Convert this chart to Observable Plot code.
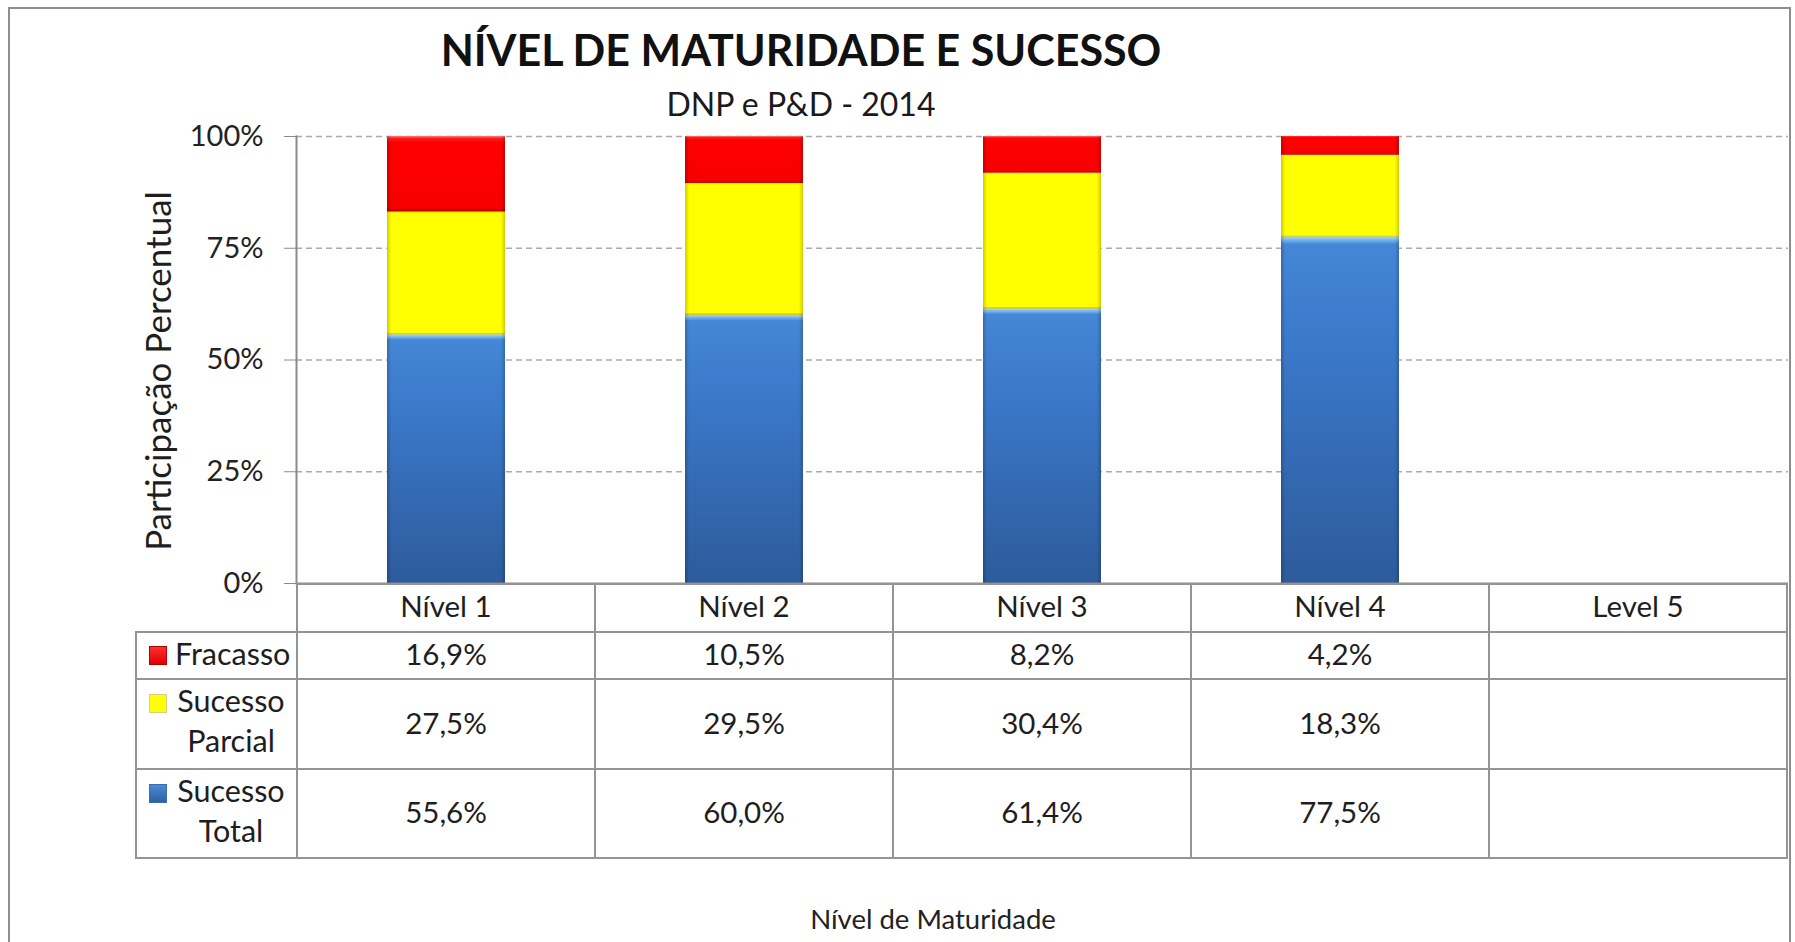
<!DOCTYPE html>
<html>
<head>
<meta charset="utf-8">
<script src="https://cdn.jsdelivr.net/npm/d3@7"></script>
<script src="https://cdn.jsdelivr.net/npm/@observablehq/plot@0.6"></script>
<style>
  body { margin: 0; background: #fff; font-family: Lato, "Noto Sans", sans-serif; color: #1e1e1e; }
  #wrap { position: relative; width: 1795px; height: 942px; overflow: hidden; background: #fff; }
  #border { position: absolute; left: 8px; top: 7px; width: 1783px; height: 980px; border: 2px solid #8e8e8e; box-sizing: border-box; }
  .t { position: absolute; white-space: nowrap; line-height: 1.2; }
  #title { left: 0; width: 1602px; text-align: center; top: 24px; font-size: 43px; font-weight: 700; color: #111; }
  #subtitle { left: 0; width: 1602px; text-align: center; top: 85px; font-size: 32px; color: #1a1a1a; }
  #xlabel { left: 933px; transform: translateX(-50%); top: 902px; font-size: 27.5px; color: #222; }
  #chart { position: absolute; left: 0; top: 120px; }
  table { position: absolute; left: 135px; top: 583px; border-collapse: collapse; table-layout: fixed; font-size: 29.5px; color: #1e1e1e; }
  td { border: 2px solid #949494; text-align: center; vertical-align: middle; padding: 0 0 4px 0; white-space: nowrap; }
  td.blank { border: none; }
  td.rhcell { padding: 0; }
  .rh { position: relative; height: 100%; }
  .sq { position: absolute; left: 12px; width: 18px; height: 19px; box-sizing: border-box; }
  .lab { position: absolute; left: 38px; width: 112px; text-align: center; line-height: 40px; font-size: 30.5px; }
</style>
</head>
<body>
<div id="wrap">
  <div id="border"></div>
  <div id="title" class="t"></div>
  <div id="subtitle" class="t"></div>
  <div id="chart"></div>
  <div id="tablehost"></div>
  <div id="xlabel" class="t"></div>
</div>
<script>
// ---- data ----
const titleText = "NÍVEL DE MATURIDADE E SUCESSO";
const subtitleText = "DNP e P&D - 2014";
const yLabel = "Participação Percentual";
const xLabel = "Nível de Maturidade";
const levels = ["Nível 1", "Nível 2", "Nível 3", "Nível 4", "Level 5"];
const series = ["Sucesso Total", "Sucesso Parcial", "Fracasso"]; // bottom -> top
const sucessoTotal = [55.6, 60.0, 61.4, 77.5];
const sucessoParcial = [27.5, 29.5, 30.4, 18.3];
const fracasso = [16.9, 10.5, 8.2, 4.2];
const yTicks = [0, 25, 50, 75, 100];
const tableRows = [
  {name: "Fracasso", lines: ["Fracasso"], values: fracasso},
  {name: "Sucesso Parcial", lines: ["Sucesso", "Parcial"], values: sucessoParcial},
  {name: "Sucesso Total", lines: ["Sucesso", "Total"], values: sucessoTotal}
];

document.getElementById("title").textContent = titleText;
document.getElementById("subtitle").textContent = subtitleText;
document.getElementById("xlabel").textContent = xLabel;

// long table for the stacked bars
const valuesBySeries = {"Sucesso Total": sucessoTotal, "Sucesso Parcial": sucessoParcial, "Fracasso": fracasso};
const rows = [];
series.forEach(s => valuesBySeries[s].forEach((v, i) => rows.push({level: levels[i], series: s, value: v})));

const gradIds = ["gTotal", "gParcial", "gFracasso"];

const plot = Plot.plot({
  width: 1795,
  height: 465,
  marginLeft: 296,
  marginRight: 7,
  marginTop: 16,
  marginBottom: 2,
  style: {fontFamily: "Lato, 'Noto Sans', sans-serif", fontSize: "29px", color: "#222", background: "transparent", overflow: "visible"},
  x: {domain: levels, axis: null, paddingInner: 0.605, paddingOuter: 0.3025},
  y: {domain: [0, 100]},
  color: {domain: series, range: gradIds.map(g => `url(#${g})`)},
  marks: [
    Plot.ruleY(yTicks.filter(d => d > 0), {stroke: "#ababab", strokeDasharray: "6,4", strokeWidth: 1.3}),
    Plot.barY(rows, {x: "level", y: "value", fill: "series", order: series}),
    Plot.barY(rows, {x: "level", y: "value", z: "series", fill: "url(#gEdge)", order: series}),
    Plot.ruleY([0], {stroke: "#8a8a8a", strokeWidth: 2}),
    Plot.frame({anchor: "left", stroke: "#8a8a8a", strokeWidth: 2}),
    Plot.axisY({ticks: yTicks, tickFormat: d => d + "%", tickSize: 12, tickPadding: 21, stroke: "#8a8a8a", fill: "#222", label: null}),
    Plot.text([yLabel], {frameAnchor: "left", rotate: -90, lineAnchor: "top", textAnchor: "middle", dx: -150, dy: 11, fontSize: 35, fill: "#1e1e1e"})
  ]
});

// gradients for the bevelled Excel-style bars
const svg = d3.select(plot);
const defs = svg.insert("defs", ":first-child");
function vgrad(id, stops, horizontal) {
  const g = defs.append("linearGradient").attr("id", id)
    .attr("x1", 0).attr("y1", 0).attr("x2", horizontal ? 1 : 0).attr("y2", horizontal ? 0 : 1);
  stops.forEach(([o, c, a]) => g.append("stop").attr("offset", o).attr("stop-color", c).attr("stop-opacity", a == null ? 1 : a));
}
vgrad("gTotal", [[0, "#a8d8fa"], [0.008, "#7cbcf2"], [0.022, "#4586d6"], [0.3, "#3b79cb"], [1, "#2d5b9b"]]);
vgrad("gParcial", [[0, "#e8d800"], [0.01, "#ffff00"], [0.985, "#ffff00"], [1, "#b5b000"]]);
vgrad("gFracasso", [[0, "#ff8080"], [0.03, "#ff2020"], [0.08, "#ff0000"], [0.95, "#f80000"], [1, "#b00000"]]);
vgrad("gEdge", [[0, "#000", 0.2], [0.035, "#000", 0], [0.965, "#000", 0], [1, "#000", 0.2]], true);

document.getElementById("chart").appendChild(plot);

// data table below the chart, aligned with the plot's band scale
const sx = plot.scale("x");
const step = sx.step;
const plotLeft = 296;
const table = document.createElement("table");
const cg = document.createElement("colgroup");
const c0 = document.createElement("col"); c0.style.width = (plotLeft - 135) + "px"; cg.appendChild(c0);
levels.forEach(() => { const c = document.createElement("col"); c.style.width = step + "px"; cg.appendChild(c); });
table.appendChild(cg);
table.style.width = (plotLeft - 135 + step * levels.length) + "px";

const hr = document.createElement("tr"); hr.style.height = "48px";
const blank = document.createElement("td"); blank.className = "blank"; hr.appendChild(blank);
levels.forEach(l => { const td = document.createElement("td"); td.textContent = l; td.style.paddingBottom = "6px"; hr.appendChild(td); });
table.appendChild(hr);

const sqStyle = {
  "Fracasso": "background: linear-gradient(#ff3030, #e00000); border: 1px solid #b00000;",
  "Sucesso Parcial": "background: #ffff00; border: 1px solid #d8d080;",
  "Sucesso Total": "background: linear-gradient(#4b8ad8, #2f5fa0); border: 1px solid #3a6db0;"
};
const rowH = [47, 90, 89];
tableRows.forEach((r, k) => {
  const tr = document.createElement("tr"); tr.style.height = rowH[k] + "px";
  const th = document.createElement("td"); th.className = "rhcell";
  const box = document.createElement("div"); box.className = "rh"; box.style.height = (rowH[k] - 2) + "px";
  const sq = document.createElement("div"); sq.className = "sq"; sq.style.cssText += sqStyle[r.name];
  sq.style.top = (r.lines.length > 1 ? 14 : 13) + "px";
  const lab = document.createElement("div"); lab.className = "lab";
  lab.style.top = "0px";
  lab.innerHTML = r.lines.map(s => s.replace(/&/g, "&amp;")).join("<br>");
  box.appendChild(sq); box.appendChild(lab); th.appendChild(box); tr.appendChild(th);
  levels.forEach((l, i) => {
    const td = document.createElement("td");
    td.textContent = r.values[i] == null ? "" : r.values[i].toFixed(1).replace(".", ",") + "%";
    tr.appendChild(td);
  });
  table.appendChild(tr);
});
document.getElementById("tablehost").appendChild(table);
</script>
</body>
</html>
